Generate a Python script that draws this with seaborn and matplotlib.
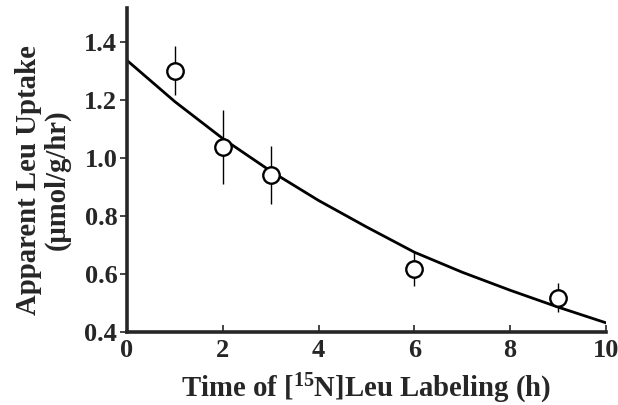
import numpy as np
import pandas as pd
import matplotlib
matplotlib.use('Agg')
import matplotlib.pyplot as plt
import seaborn as sns

# measured points (time in h, uptake, error)
times = [1, 2, 3, 6, 9]
uptake = [1.30, 1.037, 0.94, 0.617, 0.518]
err = [0.083, 0.127, 0.10, 0.057, 0.05]

# fitted curve
curve_t = [0, 1, 2, 3, 4, 5, 6, 7, 8, 9, 10]
curve_y = [1.335, 1.193, 1.066, 0.954, 0.853, 0.762, 0.675, 0.606, 0.544, 0.486, 0.432]

x_ticks = [0, 2, 4, 6, 8, 10]
y_ticks = [0.4, 0.6, 0.8, 1.0, 1.2, 1.4]

sns.set_style('ticks')
plt.rcParams['font.family'] = ['Liberation Serif', 'DejaVu Serif']
plt.rcParams['font.weight'] = 'bold'
plt.rcParams['mathtext.fontset'] = 'custom'
plt.rcParams['mathtext.rm'] = 'Liberation Serif:bold'

pts = pd.DataFrame({'t': times, 'u': uptake})
fit = pd.DataFrame({'t': curve_t, 'u': curve_y})

fig = plt.figure(figsize=(6.18, 4.05), dpi=100)
ax = fig.add_axes([0.2055, 0.18, 0.775, 0.80])

sns.lineplot(data=fit, x='t', y='u', color='black', lw=2.0, ax=ax)
ax.errorbar(times, uptake, yerr=err, fmt='none', ecolor='black', elinewidth=1.0, zorder=3)
sns.scatterplot(data=pts, x='t', y='u', marker='o', s=140, facecolor='white',
                edgecolor='black', linewidth=1.7, ax=ax, zorder=4)

ax.set_xlim(0, 10)
ax.set_ylim(0.4, 1.515)
ax.set_xticks(x_ticks)
ax.set_yticks(y_ticks)
ax.set_xticklabels([str(v) for v in x_ticks])
ax.set_yticklabels([f'{v:.1f}' for v in y_ticks])
ax.tick_params(axis='x', direction='in', length=5, width=1.2, labelsize=19, pad=5)
ax.tick_params(axis='y', direction='out', length=5, width=1.2, labelsize=19, pad=2)
for s in ['top', 'right']:
    ax.spines[s].set_visible(False)
for s in ['left', 'bottom']:
    ax.spines[s].set_linewidth(2.6)

ax.set_xlabel(r'Time of [$\mathrm{^{15}}$N]Leu Labeling (h)', fontsize=20.7, fontweight='bold', labelpad=7)
ax.set_ylabel('Apparent Leu Uptake\n(\u03bcmol/g/hr)', fontsize=20.7, fontweight='bold',
              linespacing=1.05)
ax.yaxis.set_label_coords(-0.118, 0.47)

fig.savefig('out.png', dpi=100)
